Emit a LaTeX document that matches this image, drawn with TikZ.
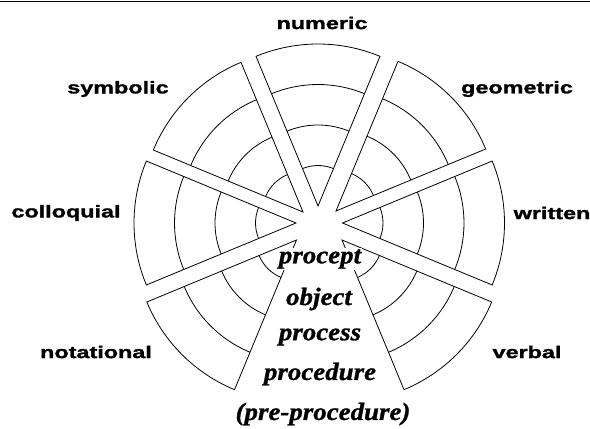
\documentclass[tikz,border=0pt]{standalone}
\usepackage{fontspec}
\newfontfamily\lblfont[FakeStretch=1.38,FakeBold=1.6]{Liberation Sans}
\newfontfamily\stagefont[FakeStretch=1.08,FakeBold=1]{Liberation Serif}

\begin{document}
\begin{tikzpicture}[x=1bp,y=1bp,line width=0.8bp,
  every node/.style={inner sep=1bp},
  mode/.style={font=\lblfont\bfseries\fontsize{17}{17}\selectfont},
  stage/.style={font=\stagefont\bfseries\itshape\fontsize{25}{25}\selectfont}]
  \useasboundingbox (0,0) rectangle (590,428);
  \draw[line width=1.5bp] (0,426.5) -- (590,426.5);
  % seven wedges, the one at the bottom is left out
  \foreach \a/\px/\py in {90/318/222, 45/336/217, 0/342.5/205, -45/342/188,
                          225/296.5/188, 180/296/205, 135/303/216} {
    \coordinate (A) at (\px,\py);
    \draw (A) -- ++(\a-22.5:162) arc (\a-22.5:\a+22.5:162) -- cycle;
    \foreach \r in {40.5,81,121.5}
      \draw (A) ++(\a-22.5:\r) arc (\a-22.5:\a+22.5:\r);
  }
  \node[mode] (num) at (322,405) {numeric};
  \node[mode] (geo) at (517,339) {geometric};
  \node[mode] (wri) at (552,215) {written};
  \node[mode] (ver) at (527,76) {verbal};
  \node[mode] (nota) at (96,76) {notational};
  \node[mode] (coll) at (66,215) {colloquial};
  \node[mode] (sym) at (118,339) {symbolic};
  \node[stage,fill=white] (procept) at (320,169) {procept};
  \node[stage] (obj) at (319,129) {object};
  \node[stage] (proc) at (320,91) {process};
  \node[stage] (pdure) at (320,54) {procedure};
  \node[stage] (pre) at (323,14) {(pre-procedure)};
\end{tikzpicture}
\end{document}
